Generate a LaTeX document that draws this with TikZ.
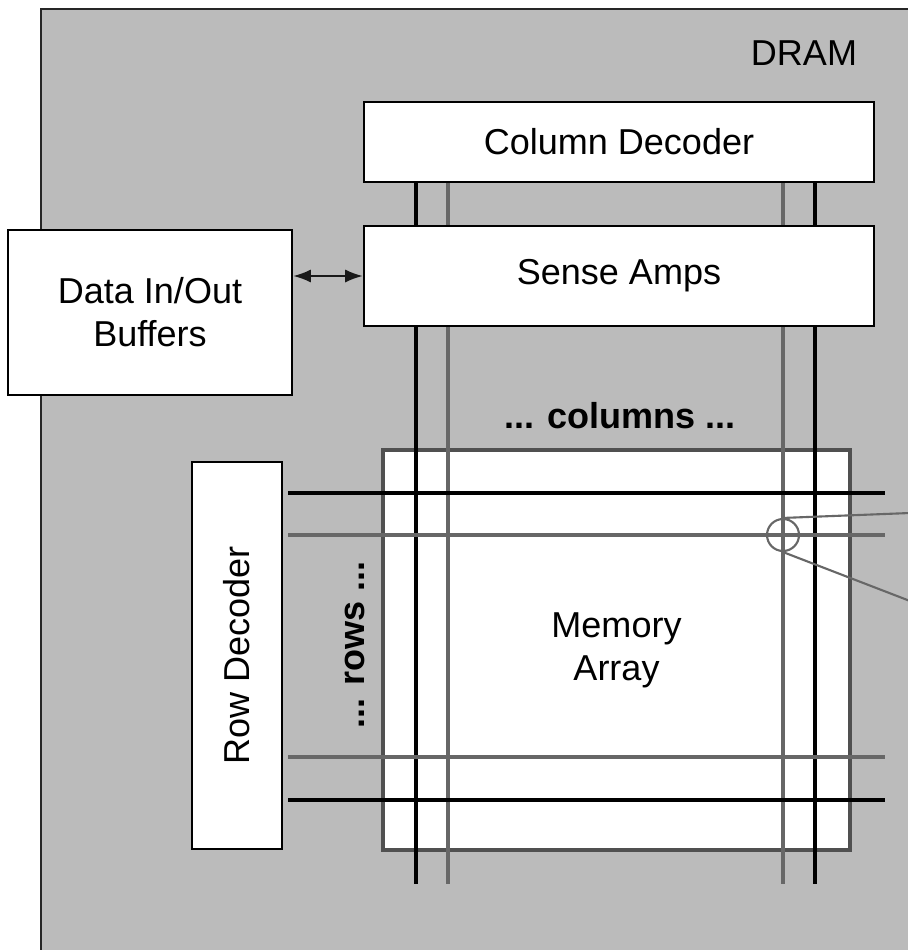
\documentclass[tikz,border=0pt]{standalone}
\usepackage{fontspec}
\setsansfont{Liberation Sans}
\usetikzlibrary{arrows.meta,backgrounds}
\definecolor{dramgray}{HTML}{BBBBBB}
\definecolor{wiregray}{HTML}{676767}
\definecolor{framegray}{HTML}{505050}

\begin{document}
\begin{tikzpicture}[x=0.02cm,y=-0.02cm,>=Latex,every node/.style={font=\sffamily\fontsize{20.5}{24.5}\selectfont,align=center},block/.style={draw,fill=white,line width=1.6pt,inner sep=0pt},memarray/.style={draw=framegray,fill=white,line width=1.9pt,inner sep=0pt,minimum width=9.34cm,minimum height=8cm},blackline/.style={line width=2pt},grayline/.style={draw=wiregray,line width=2.6pt},boldlabel/.style={font=\sffamily\bfseries\fontsize{20.5}{24.5}\selectfont},dataio/.style={arrows={<->},>={Latex[length=10pt,width=7.5pt]},line width=1pt,draw=black!90},callout/.style={draw=wiregray,line width=1.2pt}]
\useasboundingbox (0,0) rectangle (908,950);
% blocks
\node[block,minimum width=10.2cm,minimum height=1.6cm] (cdec) at (619,142) {Column Decoder};
\node[block,minimum width=10.2cm,minimum height=2cm] (samp) at (619,276) {Sense Amps};
\node[block,minimum width=5.68cm,minimum height=3.3cm] (buf) at (150,312.5) {Data In/Out\\Buffers};
\node[block,minimum width=1.8cm,minimum height=7.74cm] (rdec) at (237,655.5) {\rotatebox{90}{Row Decoder}};
\node[anchor=base] (dram) at (804,65) {DRAM};
\node[boldlabel,anchor=base] (cols) at (620,428) {... columns ...};
\node[boldlabel,rotate=90] (rows) at (355,645) {... rows ...};
\draw[dataio] (buf.east |- samp.west) -- (samp.west);
\begin{pgfonlayer}{background}
\fill[white] (0,0) rectangle (908,950);
\draw[draw=black!85,fill=dramgray,line width=1.7pt] (41,9) rectangle (930,970);
\node[memarray] (mem) at (616.5,650) {Memory\\Array};
% bit lines
\coordinate (bl1) at (416,884);
\coordinate (bl2) at (448,884);
\coordinate (bl3) at (783,884);
\coordinate (bl4) at (815,884);
\draw[blackline] (cdec.south -| bl1) -- (bl1);
\draw[grayline] (cdec.south -| bl2) -- (bl2);
\draw[grayline] (cdec.south -| bl3) -- (bl3);
\draw[blackline] (cdec.south -| bl4) -- (bl4);
% word lines
\coordinate (wl1) at (885,493);
\coordinate (wl2) at (885,535);
\coordinate (wl3) at (885,757);
\coordinate (wl4) at (885,800);
\draw[blackline,shorten <=0.1cm] (rdec.east |- wl1) -- (wl1);
\draw[grayline,shorten <=0.1cm] (rdec.east |- wl2) -- (wl2);
\draw[grayline,shorten <=0.1cm] (rdec.east |- wl3) -- (wl3);
\draw[blackline,shorten <=0.1cm] (rdec.east |- wl4) -- (wl4);
\end{pgfonlayer}
% cell callout
\node[circle,callout,minimum size=0.64cm,inner sep=0pt] (cell) at (783,535) {};
\coordinate (co1) at (910,513);
\coordinate (co2) at (910,601);
\draw[callout] (cell.north) -- (co1);
\draw[callout] (cell.south) -- (co2);
\end{tikzpicture}
\end{document}
